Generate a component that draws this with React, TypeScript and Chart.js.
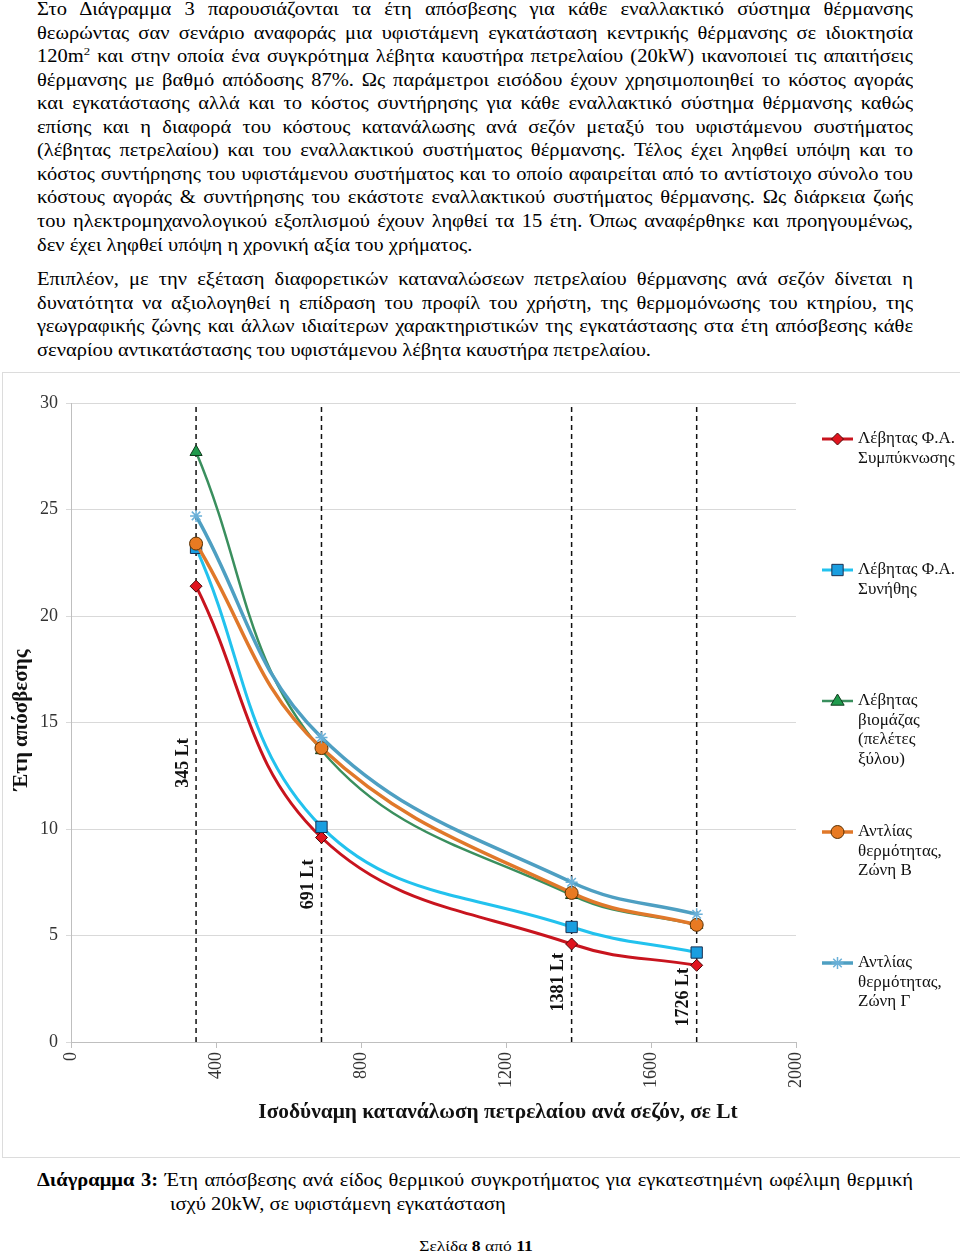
import React, { useEffect, useLayoutEffect, useRef } from 'react';
import { Chart, registerables } from 'chart.js';

Chart.register(...registerables);

// ---------- data ----------
const consumption = [345, 691, 1381, 1726];
const refLabels = ['345 Lt', '691 Lt', '1381 Lt', '1726 Lt'];
const refLabelY = [13.1, 7.4, 2.8, 2.1];

const condensingBoiler = [21.4, 9.6, 4.6, 3.6];
const conventionalBoiler = [23.2, 10.1, 5.4, 4.2];
const biomassBoiler = [27.7, 13.7, 6.9, 5.5];
const heatPumpZoneB = [23.4, 13.8, 7.0, 5.5];
const heatPumpZoneG = [24.7, 14.3, 7.5, 6.0];

const seriesValues = [condensingBoiler, conventionalBoiler, biomassBoiler, heatPumpZoneB, heatPumpZoneG];
const seriesNames = [
  ['Λέβητας Φ.Α.', 'Συμπύκνωσης'],
  ['Λέβητας Φ.Α.', 'Συνήθης'],
  ['Λέβητας', 'βιομάζας', '(πελέτες', 'ξύλου)'],
  ['Αντλίας', 'θερμότητας,', 'Ζώνη Β'],
  ['Αντλίας', 'θερμότητας,', 'Ζώνη Γ'],
];
const lineColors = ['#c8141e', '#22c2ee', '#3a8f5e', '#e0782a', '#4e9fc2'];
const markerFills = ['#e0141e', '#1a9ee0', '#1f9a4c', '#e87a22', '#6ab0d8'];
const markerBorders = ['#4a0a0a', '#1a3050', '#0f3a1c', '#5a3000', '#6ab0d8'];
const markerStyles = ['rectRot', 'rect', 'triangle', 'circle', 'star'];
const markerRadii = [6, 8, 7, 6.5, 6];
const lineWidths = [3, 3, 2.5, 3.5, 3.5];

const xMin = 0;
const xMax = 2000;
const xStep = 400;
const yMin = 0;
const yMax = 30;
const yStep = 5;

const xTitle = 'Ισοδύναμη κατανάλωση πετρελαίου ανά σεζόν, σε Lt';
const yTitle = 'Έτη απόσβεσης';

// ---------- page text ----------
const para1 = [
  'Στο Διάγραμμα 3 παρουσιάζονται τα έτη απόσβεσης για κάθε εναλλακτικό σύστημα θέρμανσης',
  'θεωρώντας σαν σενάριο αναφοράς μια υφιστάμενη εγκατάσταση κεντρικής θέρμανσης σε ιδιοκτησία',
  '@SUP',
  'θέρμανσης με βαθμό απόδοσης 87%. Ως παράμετροι εισόδου έχουν χρησιμοποιηθεί το κόστος αγοράς',
  'και εγκατάστασης αλλά και το κόστος συντήρησης για κάθε εναλλακτικό σύστημα θέρμανσης καθώς',
  'επίσης και η διαφορά του κόστους κατανάλωσης ανά σεζόν μεταξύ του υφιστάμενου συστήματος',
  '(λέβητας πετρελαίου) και του εναλλακτικού συστήματος θέρμανσης. Τέλος έχει ληφθεί υπόψη και το',
  'κόστος συντήρησης του υφιστάμενου συστήματος και το οποίο αφαιρείται από το αντίστοιχο σύνολο του',
  'κόστους αγοράς & συντήρησης του εκάστοτε εναλλακτικού συστήματος θέρμανσης. Ως διάρκεια ζωής',
  'του ηλεκτρομηχανολογικού εξοπλισμού έχουν ληφθεί τα 15 έτη. Όπως αναφέρθηκε και προηγουμένως,',
  'δεν έχει ληφθεί υπόψη η χρονική αξία του χρήματος.',
];
const para2 = [
  'Επιπλέον, με την εξέταση διαφορετικών καταναλώσεων πετρελαίου θέρμανσης ανά σεζόν δίνεται η',
  'δυνατότητα να αξιολογηθεί η επίδραση του προφίλ του χρήστη, της θερμομόνωσης του κτηρίου, της',
  'γεωγραφικής ζώνης και άλλων ιδιαίτερων χαρακτηριστικών της εγκατάστασης στα έτη απόσβεσης κάθε',
  'σεναρίου αντικατάστασης του υφιστάμενου λέβητα καυστήρα πετρελαίου.',
];

const SERIF = "'Liberation Serif', 'Times New Roman', serif";
const BODY_SIZE = 20.5;
const SCALE_Y = 0.88;
const LH = 23.55;
const TEXT_LEFT = 37;
const TEXT_WIDTH = 876;

function drawMarker(ctx: CanvasRenderingContext2D, style: string, x: number, y: number, r: number, fill: string, stroke: string) {
  ctx.save();
  ctx.fillStyle = fill;
  ctx.strokeStyle = stroke;
  ctx.lineWidth = style === 'star' ? 1.5 : 1;
  ctx.beginPath();
  if (style === 'rectRot') {
    ctx.moveTo(x, y - r); ctx.lineTo(x + r, y); ctx.lineTo(x, y + r); ctx.lineTo(x - r, y); ctx.closePath();
    ctx.fill(); ctx.stroke();
  } else if (style === 'rect') {
    const s = Math.SQRT1_2 * r;
    ctx.rect(x - s, y - s, 2 * s, 2 * s); ctx.fill(); ctx.stroke();
  } else if (style === 'triangle') {
    ctx.moveTo(x, y - r); ctx.lineTo(x + r * 0.95, y + r * 0.6); ctx.lineTo(x - r * 0.95, y + r * 0.6); ctx.closePath();
    ctx.fill(); ctx.stroke();
  } else if (style === 'circle') {
    ctx.arc(x, y, r, 0, Math.PI * 2); ctx.fill(); ctx.stroke();
  } else {
    for (let k = 0; k < 4; k++) {
      const a = (k * Math.PI) / 4;
      ctx.moveTo(x + Math.cos(a) * r, y + Math.sin(a) * r);
      ctx.lineTo(x - Math.cos(a) * r, y - Math.sin(a) * r);
    }
    ctx.strokeStyle = fill;
    ctx.stroke();
  }
  ctx.restore();
}

const overlayPlugin = {
  id: 'overlay',
  afterDatasetsDraw(chart: any) {
    const ctx: CanvasRenderingContext2D = chart.ctx;
    const xs = chart.scales.x;
    const ys = chart.scales.y;
    ctx.save();
    ctx.fillStyle = '#111';
    ctx.font = `bold 18px ${SERIF}`;
    ctx.textAlign = 'center';
    ctx.textBaseline = 'middle';
    consumption.forEach((c, i) => {
      const px = xs.getPixelForValue(c) - 13;
      const py = ys.getPixelForValue(refLabelY[i]);
      ctx.save();
      ctx.translate(px, py);
      ctx.rotate(-Math.PI / 2);
      ctx.fillText(refLabels[i], 0, 0);
      ctx.restore();
    });
    ctx.restore();
  },
  afterDraw(chart: any) {
    const ctx: CanvasRenderingContext2D = chart.ctx;
    ctx.save();
    ctx.fillStyle = '#111';
    ctx.font = `bold 21.4px ${SERIF}`;
    ctx.textAlign = 'center';
    ctx.textBaseline = 'middle';
    ctx.fillText(xTitle, 495, 739);
    ctx.save();
    ctx.translate(19, 347);
    ctx.rotate(-Math.PI / 2);
    ctx.font = `bold 21px ${SERIF}`;
    ctx.fillText(yTitle, 0, 0);
    ctx.restore();
    ctx.font = `17px ${SERIF}`;
    ctx.textAlign = 'left';
    seriesNames.forEach((lines, i) => {
      const y0 = 66 + i * 131;
      ctx.save();
      ctx.strokeStyle = lineColors[i];
      ctx.lineWidth = lineWidths[i];
      ctx.beginPath();
      ctx.moveTo(819, y0);
      ctx.lineTo(850, y0);
      ctx.stroke();
      ctx.restore();
      drawMarker(ctx, markerStyles[i], 834.5, y0, markerRadii[i], markerFills[i], markerBorders[i]);
      ctx.fillStyle = '#111';
      lines.forEach((t, k) => ctx.fillText(t, 855, y0 + k * 19.5));
    });
    ctx.restore();
  },
};

function ChartBox() {
  const ref = useRef<HTMLCanvasElement | null>(null);
  useEffect(() => {
    if (!ref.current) return;
    const refDatasets = consumption.map((c) => ({
      type: 'line' as const,
      label: '',
      data: [{ x: c, y: yMin }, { x: c, y: yMax }],
      borderColor: '#111',
      borderWidth: 1.5,
      borderDash: [5, 4],
      pointRadius: 0,
      tension: 0,
      order: 20,
    }));
    const seriesDatasets = seriesValues.map((vals, i) => ({
      type: 'line' as const,
      label: seriesNames[i].join(' '),
      data: consumption.map((c, k) => ({ x: c, y: vals[k] })),
      borderColor: lineColors[i],
      borderWidth: lineWidths[i],
      pointStyle: markerStyles[i],
      pointRadius: markerRadii[i],
      pointBackgroundColor: markerFills[i],
      pointBorderColor: markerBorders[i],
      pointBorderWidth: i === 4 ? 1.5 : 1,
      tension: 0.4,
      fill: false,
      order: 10 - i,
    }));
    const chart = new Chart(ref.current, {
      type: 'line',
      data: { datasets: [...refDatasets, ...seriesDatasets] as any },
      plugins: [overlayPlugin],
      options: {
        animation: false,
        responsive: false,
        maintainAspectRatio: false,
        layout: { padding: { top: 30, right: 164, bottom: 0, left: 0 } },
        plugins: { legend: { display: false }, tooltip: { enabled: false } },
        scales: {
          x: {
            type: 'linear',
            min: xMin,
            max: xMax,
            afterFit: (axis: any) => { axis.height = 116; },
            ticks: {
              stepSize: xStep,
              minRotation: 90,
              maxRotation: 90,
              padding: 4,
              color: '#333',
              font: { family: SERIF, size: 18 },
              callback: (v: any) => String(v),
            },
            grid: { drawOnChartArea: false, drawTicks: true, tickLength: 6, color: '#bfbfbf' },
            border: { color: '#bfbfbf', width: 1 },
          },
          y: {
            type: 'linear',
            min: yMin,
            max: yMax,
            afterFit: (axis: any) => { axis.width = 68; },
            ticks: {
              stepSize: yStep,
              padding: 8,
              color: '#333',
              font: { family: SERIF, size: 18 },
              callback: (v: any) => String(v),
            },
            grid: { color: '#d9d9d9', tickLength: 5 },
            border: { color: '#bfbfbf', width: 1 },
          },
        },
      } as any,
    });
    return () => chart.destroy();
  }, []);
  return (
    <canvas
      ref={ref}
      width={957}
      height={785}
      style={{ position: 'absolute', left: 3, top: 373, width: 957, height: 785 }}
    />
  );
}

function Line({ top, children, fit = true, left = TEXT_LEFT, size = BODY_SIZE }: any) {
  return (
    <div
      style={{
        position: 'absolute',
        top,
        left,
        height: LH,
        lineHeight: `${LH}px`,
        whiteSpace: 'nowrap',
        fontSize: size,
        fontFamily: SERIF,
        color: '#000',
      }}
    >
      <span
        data-fit={fit ? TEXT_WIDTH : undefined}
        style={{ display: 'inline-block', transformOrigin: '0 50%', transform: `scaleY(${SCALE_Y})` }}
      >
        {children}
      </span>
    </div>
  );
}

export default function App() {
  useLayoutEffect(() => {
    const fitAll = () => {
      document.querySelectorAll<HTMLSpanElement>('span[data-fit]').forEach((span) => {
        span.style.wordSpacing = '0px';
        span.style.transform = `scaleY(${SCALE_Y})`;
        const target = Number(span.dataset.fit);
        const w = span.getBoundingClientRect().width;
        const spaces = ((span.textContent || '').match(/ /g) || []).length;
        if (w < target && spaces) span.style.wordSpacing = `${(target - w) / spaces}px`;
        else if (w > target) span.style.transform = `scale(${target / w}, ${SCALE_Y})`;
      });
    };
    fitAll();
    if ((document as any).fonts && (document as any).fonts.ready) (document as any).fonts.ready.then(fitAll);
  }, []);

  const p1Top = -2;
  const p2Top = 268;
  return (
    <div style={{ position: 'absolute', left: 0, top: 0, width: 960, height: 1254, overflow: 'hidden', background: '#fff' }}>
      {para1.map((t, i) => (
        <Line key={'a' + i} top={p1Top + i * LH} fit={i < para1.length - 1}>
          {t === '@SUP' ? (
            <>
              120m<span style={{ fontSize: '0.62em', position: 'relative', top: '-0.6em' }}>2</span> και στην οποία ένα συγκρότημα λέβητα καυστήρα πετρελαίου (20kW) ικανοποιεί τις απαιτήσεις
            </>
          ) : (
            t
          )}
        </Line>
      ))}
      {para2.map((t, i) => (
        <Line key={'b' + i} top={p2Top + i * LH} fit={i < para2.length - 1}>
          {t}
        </Line>
      ))}
      <div
        style={{
          position: 'absolute',
          left: 2,
          top: 372,
          width: 990,
          height: 786,
          border: '1px solid #dcdcdc',
          boxSizing: 'border-box',
        }}
      />
      <ChartBox />
      <Line top={1169} fit>
        <b>Διάγραμμα 3:</b> Έτη απόσβεσης ανά είδος θερμικού συγκροτήματος για εγκατεστημένη ωφέλιμη θερμική
      </Line>
      <Line top={1193} fit={false} left={170}>
        ισχύ 20kW, σε υφιστάμενη εγκατάσταση
      </Line>
      <div
        style={{
          position: 'absolute',
          top: 1235,
          left: 0,
          width: 952,
          textAlign: 'center',
          fontFamily: SERIF,
          fontSize: 17.5,
          lineHeight: '22px',
        }}
      >
        <span style={{ display: 'inline-block', transform: `scaleY(${SCALE_Y})` }}>
          Σελίδα <b>8</b> από <b>11</b>
        </span>
      </div>
    </div>
  );
}
